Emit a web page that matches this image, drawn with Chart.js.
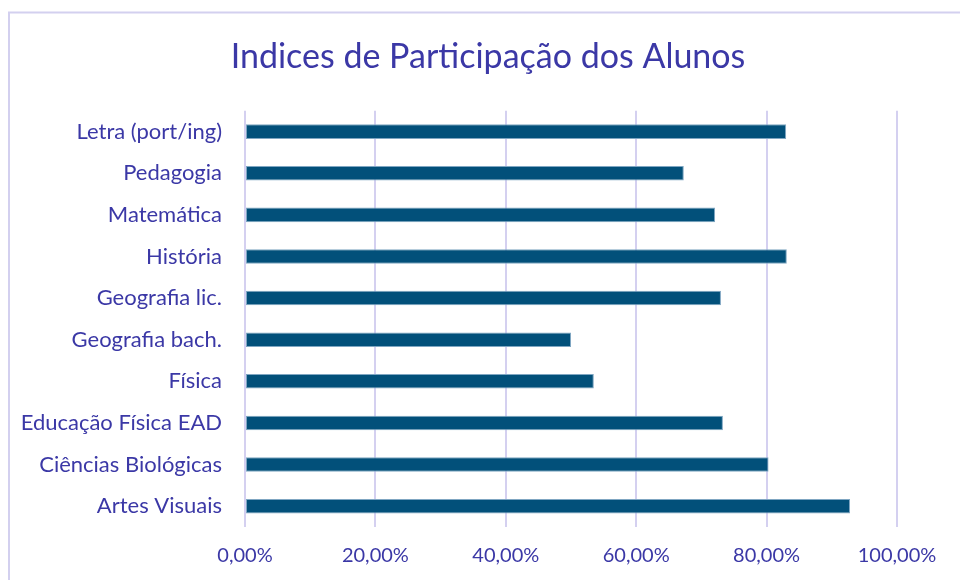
<!DOCTYPE html>
<html>
<head>
<meta charset="utf-8">
<script src="https://cdn.jsdelivr.net/npm/chart.js@4"></script>
<style>
html,body{margin:0;padding:0;background:#fff;}
#wrap{width:960px;height:580px;position:relative;}
</style>
</head>
<body>
<div id="wrap"><canvas id="c" width="960" height="580"></canvas></div>
<script>
const categories = ["Letra (port/ing)","Pedagogia","Matemática","História","Geografia lic.","Geografia bach.","Física","Educação Física EAD","Ciências Biológicas","Artes Visuais"];
const participacao = [83.0, 67.3, 72.1, 83.1, 73.0, 50.0, 53.5, 73.3, 80.3, 92.8];
const xTicks = [0, 20, 40, 60, 80, 100];

const textColor = '#3b38a6';
const fontFam = 'Lato, "Open Sans", sans-serif';

const framePlugin = {
  id: 'frame',
  beforeDraw(chart) {
    const ctx = chart.ctx;
    ctx.save();
    ctx.strokeStyle = '#d3d0ef';
    ctx.lineWidth = 2;
    ctx.strokeRect(9, 12.5, 1200, 1200);
    ctx.restore();
  }
};

new Chart(document.getElementById('c'), {
  type: 'bar',
  data: {
    labels: categories,
    datasets: [{
      data: participacao,
      backgroundColor: '#02507a',
      borderColor: '#7fa6c2',
      borderWidth: 1,
      borderSkipped: false,
      categoryPercentage: 1,
      barPercentage: 0.35
    }]
  },
  options: {
    indexAxis: 'y',
    responsive: false,
    animation: false,
    layout: { padding: { left: 16, right: 0, top: 0, bottom: 0 } },
    plugins: {
      legend: { display: false },
      tooltip: { enabled: false },
      title: {
        display: true,
        text: 'Indices de Participação dos Alunos',
        color: textColor,
        font: { family: fontFam, size: 34, weight: 'normal', lineHeight: 1.2 },
        padding: { top: 37, bottom: 33 }
      }
    },
    scales: {
      x: {
        min: 0, max: 100,
        afterBuildTicks(axis) { axis.ticks = xTicks.map(v => ({ value: v })); },
        afterFit(axis) { axis.height = 53; },
        ticks: {
          color: textColor,
          font: { family: fontFam, size: 20 },
          padding: 17,
          callback: v => v.toFixed(2).replace('.', ',') + '%'
        },
        grid: { color: '#d4d0f0', lineWidth: 2, drawTicks: false },
        border: { display: false }
      },
      y: {
        afterFit(axis) { axis.width = 229; },
        ticks: {
          color: textColor,
          font: { family: fontFam, size: 22 },
          padding: 23
        },
        grid: { display: false, drawTicks: false },
        border: { display: false }
      },
      yRight: {
        type: 'linear',
        position: 'right',
        display: true,
        afterFit(axis) { axis.width = 63; },
        ticks: { display: false },
        grid: { display: false, drawTicks: false },
        border: { display: false }
      }
    }
  },
  plugins: [framePlugin]
});
</script>
</body>
</html>
